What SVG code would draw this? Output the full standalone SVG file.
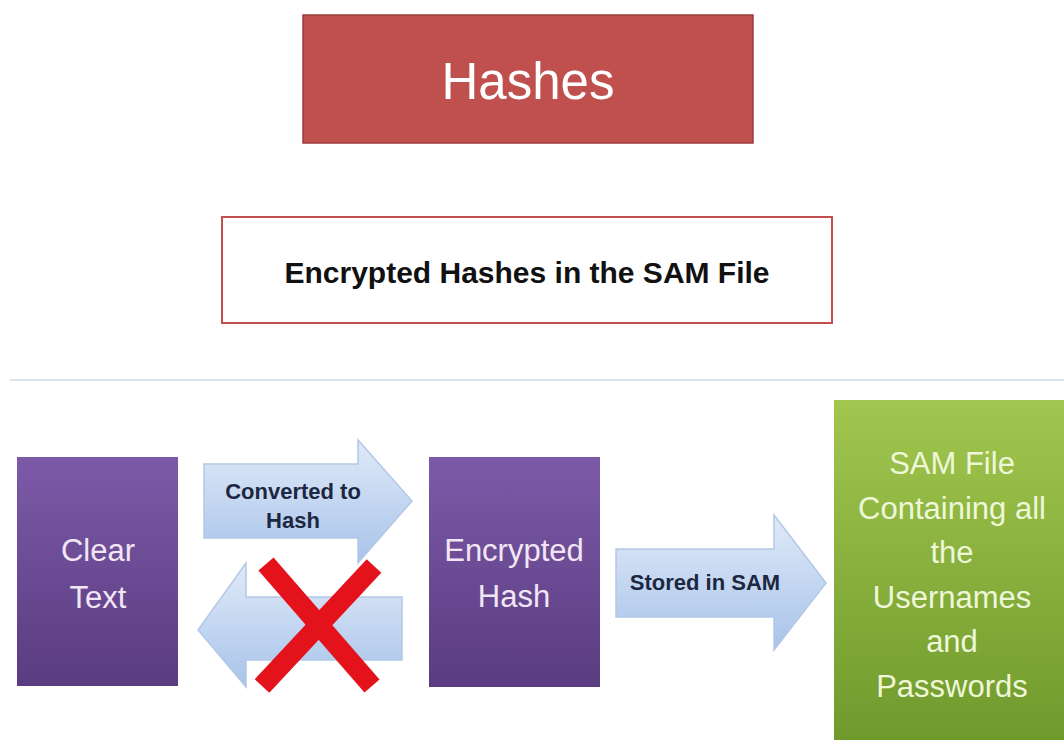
<svg xmlns="http://www.w3.org/2000/svg" width="1064" height="743" viewBox="0 0 1064 743">
<defs>
<linearGradient id="purple" x1="0" y1="0" x2="0" y2="1">
<stop offset="0" stop-color="#7c5aa8"/>
<stop offset="1" stop-color="#5a3c80"/>
</linearGradient>
<linearGradient id="green" x1="0" y1="0" x2="0" y2="1">
<stop offset="0" stop-color="#a2c64f"/>
<stop offset="1" stop-color="#6f9a2c"/>
</linearGradient>
<linearGradient id="blue" x1="0" y1="0" x2="0" y2="1">
<stop offset="0" stop-color="#e0eaf8"/>
<stop offset="1" stop-color="#a8c3ea"/>
</linearGradient>
<style>
.box-text{font-family:"Liberation Sans",Arial,sans-serif;font-size:31px;text-anchor:middle;}
.arrow{fill:url(#blue);stroke:#b3c8e6;stroke-width:1.5;}
.arrow-text{font-family:"Liberation Sans",Arial,sans-serif;font-size:22px;font-weight:bold;fill:#1c2741;text-anchor:middle;}
</style>
</defs>
<rect width="1064" height="743" fill="#ffffff"/>

<g id="title">
<rect x="303" y="15" width="450" height="128" fill="#c0504d" stroke="#9a3d3a" stroke-width="1.5"/>
<text x="528" y="99" font-family="'Liberation Sans',Arial,sans-serif" font-size="51" fill="#ffffff" text-anchor="middle">Hashes</text>
</g>

<g id="subtitle">
<rect x="222" y="217" width="610" height="106" fill="#ffffff" stroke="#c0504d" stroke-width="2"/>
<text x="527" y="283" font-family="'Liberation Sans',Arial,sans-serif" font-size="30" font-weight="bold" fill="#111111" text-anchor="middle">Encrypted Hashes in the SAM File</text>
</g>

<g id="separator">
<line x1="10" y1="380" x2="1064" y2="380" stroke="#dbe3f0" stroke-width="2"/>
</g>

<g id="clear-text">
<rect x="17" y="457" width="161" height="229" fill="url(#purple)"/>
<text class="box-text" x="98" y="561" fill="#f2e6f5">Clear</text>
<text class="box-text" x="98" y="608" fill="#f2e6f5">Text</text>
</g>

<g id="encrypted-hash">
<rect x="429" y="457" width="171" height="230" fill="url(#purple)"/>
<text class="box-text" x="514" y="561" fill="#f2e6f5">Encrypted</text>
<text class="box-text" x="514" y="607" fill="#f2e6f5">Hash</text>
</g>

<g id="sam-file">
<rect x="834" y="400" width="232" height="340" fill="url(#green)"/>
<text class="box-text" x="952" y="474" fill="#eef7d8">SAM File</text>
<text class="box-text" x="952" y="519" fill="#eef7d8">Containing all</text>
<text class="box-text" x="952" y="563" fill="#eef7d8">the</text>
<text class="box-text" x="952" y="608" fill="#eef7d8">Usernames</text>
<text class="box-text" x="952" y="652" fill="#eef7d8">and</text>
<text class="box-text" x="952" y="697" fill="#eef7d8">Passwords</text>
</g>

<g id="connectors">
<g id="converted-to-hash">
<path class="arrow" d="M204,464 L358,464 L358,440 L412,501 L358,563 L358,538 L204,538 Z"/>
<text class="arrow-text" x="293" y="499">Converted to</text>
<text class="arrow-text" x="293" y="528">Hash</text>
</g>
<g id="reverse-blocked">
<path class="arrow" d="M402,597 L246,597 L246,563 L198,630 L246,687 L246,660 L402,660 Z"/>
<g stroke="#e3121b" stroke-width="20" stroke-linecap="butt">
<line x1="266" y1="564" x2="372" y2="686"/>
<line x1="374" y1="566" x2="262" y2="686"/>
</g>
</g>
<g id="stored-in-sam">
<path class="arrow" d="M616,549 L774,549 L774,515 L826,583 L774,650 L774,617 L616,617 Z"/>
<text class="arrow-text" x="705" y="590">Stored in SAM</text>
</g>
</g>
</svg>
